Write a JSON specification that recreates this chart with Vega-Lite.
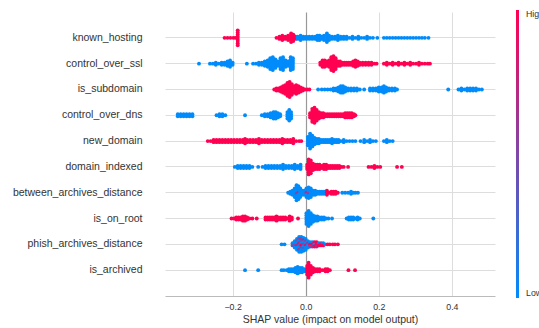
{
  "$schema": "https://vega.github.io/schema/vega-lite/v6.json",
  "width": 330,
  "height": 284,
  "autosize": {"type": "none"},
  "padding": {"left": 165, "top": 12, "right": 44, "bottom": 32},
  "background": "white",
  "config": {"view": {"stroke": null}, "font": "Liberation Sans"},
  "data": {"values": [
    {"f":0,"s":-0.222,"v":1},{"f":0,"s":-0.214,"v":1},{"f":0,"s":-0.206,"v":1},{"f":0,"s":-0.198,"v":1},{"f":0,"s":-0.192,"v":1},
    {"f":0,"s":-0.186,"v":1},{"f":0,"s":-0.186,"v":1},{"f":0,"s":-0.186,"v":1},{"f":0,"s":-0.186,"v":1},{"f":0,"s":-0.186,"v":1},{"f":0,"s":-0.186,"v":1},{"f":0,"s":-0.186,"v":1},{"f":0,"s":-0.186,"v":1},
    {"f":0,"s":-0.080,"v":1},{"f":0,"s":-0.072,"v":1},{"f":0,"s":-0.072,"v":1},{"f":0,"s":-0.064,"v":1},{"f":0,"s":-0.064,"v":1},{"f":0,"s":-0.064,"v":1},{"f":0,"s":-0.056,"v":1},{"f":0,"s":-0.056,"v":1},
    {"f":0,"s":-0.048,"v":1},{"f":0,"s":-0.048,"v":1},{"f":0,"s":-0.048,"v":1},{"f":0,"s":-0.040,"v":1},{"f":0,"s":-0.040,"v":1},{"f":0,"s":-0.040,"v":1},{"f":0,"s":-0.040,"v":1},{"f":0,"s":-0.040,"v":1},
    {"f":0,"s":-0.034,"v":1},{"f":0,"s":-0.034,"v":1},{"f":0,"s":-0.034,"v":1},{"f":0,"s":-0.034,"v":1},{"f":0,"s":-0.028,"v":1},{"f":0,"s":-0.028,"v":1},
    {"f":0,"s":-0.022,"v":0},{"f":0,"s":-0.022,"v":0},{"f":0,"s":-0.014,"v":0},{"f":0,"s":-0.014,"v":0},{"f":0,"s":-0.014,"v":0},{"f":0,"s":-0.006,"v":0},{"f":0,"s":-0.006,"v":0},
    {"f":0,"s":0.002,"v":0},{"f":0,"s":0.002,"v":0},{"f":0,"s":0.010,"v":0},{"f":0,"s":0.010,"v":0},{"f":0,"s":0.018,"v":0},{"f":0,"s":0.018,"v":0},{"f":0,"s":0.026,"v":0},{"f":0,"s":0.026,"v":0},
    {"f":0,"s":0.032,"v":0},{"f":0,"s":0.032,"v":0},{"f":0,"s":0.032,"v":0},{"f":0,"s":0.038,"v":0},{"f":0,"s":0.038,"v":0},{"f":0,"s":0.038,"v":0},{"f":0,"s":0.044,"v":0},{"f":0,"s":0.044,"v":0},
    {"f":0,"s":0.050,"v":0},{"f":0,"s":0.050,"v":0},{"f":0,"s":0.050,"v":0},{"f":0,"s":0.058,"v":0},{"f":0,"s":0.058,"v":0},{"f":0,"s":0.058,"v":0},{"f":0,"s":0.058,"v":0},{"f":0,"s":0.058,"v":0},
    {"f":0,"s":0.064,"v":0},{"f":0,"s":0.064,"v":0},{"f":0,"s":0.064,"v":0},{"f":0,"s":0.072,"v":0},{"f":0,"s":0.072,"v":0},{"f":0,"s":0.080,"v":0},{"f":0,"s":0.080,"v":0},
    {"f":0,"s":0.088,"v":0},{"f":0,"s":0.088,"v":0},{"f":0,"s":0.088,"v":0},{"f":0,"s":0.096,"v":0},{"f":0,"s":0.096,"v":0},{"f":0,"s":0.104,"v":0},{"f":0,"s":0.104,"v":0},{"f":0,"s":0.112,"v":0},{"f":0,"s":0.112,"v":0},
    {"f":0,"s":0.120,"v":0},{"f":0,"s":0.128,"v":0},{"f":0,"s":0.128,"v":0},{"f":0,"s":0.136,"v":0},{"f":0,"s":0.144,"v":0},{"f":0,"s":0.144,"v":0},{"f":0,"s":0.152,"v":0},{"f":0,"s":0.160,"v":0},
    {"f":0,"s":0.168,"v":0},{"f":0,"s":0.168,"v":0},{"f":0,"s":0.176,"v":0},{"f":0,"s":0.184,"v":0},{"f":0,"s":0.196,"v":0},
    {"f":0,"s":0.214,"v":0},{"f":0,"s":0.222,"v":0},{"f":0,"s":0.230,"v":0},{"f":0,"s":0.238,"v":0},{"f":0,"s":0.246,"v":0},{"f":0,"s":0.254,"v":0},{"f":0,"s":0.262,"v":0},{"f":0,"s":0.270,"v":0},
    {"f":0,"s":0.278,"v":0},{"f":0,"s":0.286,"v":0},{"f":0,"s":0.294,"v":0},{"f":0,"s":0.302,"v":0},{"f":0,"s":0.310,"v":0},{"f":0,"s":0.318,"v":0},{"f":0,"s":0.326,"v":0},{"f":0,"s":0.336,"v":0},

    {"f":1,"s":-0.292,"v":0},
    {"f":1,"s":-0.262,"v":0},{"f":1,"s":-0.254,"v":0},{"f":1,"s":-0.246,"v":0},{"f":1,"s":-0.246,"v":0},{"f":1,"s":-0.238,"v":0},{"f":1,"s":-0.230,"v":0},{"f":1,"s":-0.230,"v":0},
    {"f":1,"s":-0.222,"v":0},{"f":1,"s":-0.222,"v":0},{"f":1,"s":-0.214,"v":0},{"f":1,"s":-0.214,"v":0},{"f":1,"s":-0.214,"v":0},{"f":1,"s":-0.207,"v":0},{"f":1,"s":-0.207,"v":0},{"f":1,"s":-0.207,"v":0},{"f":1,"s":-0.207,"v":0},
    {"f":1,"s":-0.200,"v":0},{"f":1,"s":-0.200,"v":0},
    {"f":1,"s":-0.161,"v":0},
    {"f":1,"s":-0.144,"v":0},{"f":1,"s":-0.136,"v":0},{"f":1,"s":-0.128,"v":0},{"f":1,"s":-0.128,"v":0},{"f":1,"s":-0.120,"v":0},{"f":1,"s":-0.120,"v":0},
    {"f":1,"s":-0.112,"v":0},{"f":1,"s":-0.112,"v":0},{"f":1,"s":-0.112,"v":0},{"f":1,"s":-0.104,"v":0},{"f":1,"s":-0.104,"v":0},{"f":1,"s":-0.104,"v":0},{"f":1,"s":-0.104,"v":0},
    {"f":1,"s":-0.097,"v":0},{"f":1,"s":-0.097,"v":0},{"f":1,"s":-0.097,"v":0},{"f":1,"s":-0.097,"v":0},{"f":1,"s":-0.097,"v":0},{"f":1,"s":-0.097,"v":0},
    {"f":1,"s":-0.090,"v":0},{"f":1,"s":-0.090,"v":0},{"f":1,"s":-0.090,"v":0},{"f":1,"s":-0.090,"v":0},{"f":1,"s":-0.090,"v":0},{"f":1,"s":-0.090,"v":0},{"f":1,"s":-0.090,"v":0},
    {"f":1,"s":-0.083,"v":0},{"f":1,"s":-0.083,"v":0},{"f":1,"s":-0.083,"v":0},{"f":1,"s":-0.083,"v":0},{"f":1,"s":-0.083,"v":0},
    {"f":1,"s":-0.076,"v":0},{"f":1,"s":-0.076,"v":0},{"f":1,"s":-0.076,"v":0},
    {"f":1,"s":-0.069,"v":0},{"f":1,"s":-0.069,"v":0},{"f":1,"s":-0.069,"v":0},{"f":1,"s":-0.069,"v":0},{"f":1,"s":-0.069,"v":0},{"f":1,"s":-0.069,"v":0},
    {"f":1,"s":-0.062,"v":0},{"f":1,"s":-0.062,"v":0},{"f":1,"s":-0.062,"v":0},{"f":1,"s":-0.062,"v":0},{"f":1,"s":-0.062,"v":0},{"f":1,"s":-0.062,"v":0},{"f":1,"s":-0.062,"v":0},
    {"f":1,"s":-0.055,"v":0},{"f":1,"s":-0.055,"v":0},{"f":1,"s":-0.055,"v":0},{"f":1,"s":-0.055,"v":0},
    {"f":1,"s":-0.048,"v":0},{"f":1,"s":-0.048,"v":0},{"f":1,"s":-0.048,"v":0},
    {"f":1,"s":-0.041,"v":0},{"f":1,"s":-0.041,"v":0},{"f":1,"s":-0.041,"v":0},{"f":1,"s":-0.041,"v":0},{"f":1,"s":-0.041,"v":0},{"f":1,"s":-0.041,"v":0},{"f":1,"s":-0.041,"v":0},
    {"f":1,"s":-0.035,"v":0},{"f":1,"s":-0.035,"v":0},{"f":1,"s":-0.035,"v":0},{"f":1,"s":-0.035,"v":0},{"f":1,"s":-0.035,"v":0},{"f":1,"s":-0.035,"v":0},
    {"f":1,"s":0.040,"v":1},{"f":1,"s":0.040,"v":1},{"f":1,"s":0.046,"v":1},{"f":1,"s":0.046,"v":1},{"f":1,"s":0.046,"v":1},{"f":1,"s":0.046,"v":1},
    {"f":1,"s":0.052,"v":1},{"f":1,"s":0.052,"v":1},{"f":1,"s":0.052,"v":1},{"f":1,"s":0.052,"v":1},{"f":1,"s":0.058,"v":1},{"f":1,"s":0.058,"v":1},{"f":1,"s":0.058,"v":1},
    {"f":1,"s":0.064,"v":1},{"f":1,"s":0.064,"v":1},{"f":1,"s":0.064,"v":1},{"f":1,"s":0.064,"v":1},
    {"f":1,"s":0.070,"v":1},{"f":1,"s":0.070,"v":1},{"f":1,"s":0.070,"v":1},{"f":1,"s":0.070,"v":1},{"f":1,"s":0.070,"v":1},{"f":1,"s":0.070,"v":1},{"f":1,"s":0.070,"v":1},
    {"f":1,"s":0.076,"v":1},{"f":1,"s":0.076,"v":1},{"f":1,"s":0.076,"v":1},{"f":1,"s":0.076,"v":1},{"f":1,"s":0.076,"v":1},{"f":1,"s":0.076,"v":1},{"f":1,"s":0.076,"v":1},{"f":1,"s":0.076,"v":1},
    {"f":1,"s":0.082,"v":1},{"f":1,"s":0.082,"v":1},{"f":1,"s":0.082,"v":1},{"f":1,"s":0.082,"v":1},{"f":1,"s":0.082,"v":1},{"f":1,"s":0.082,"v":1},
    {"f":1,"s":0.088,"v":1},{"f":1,"s":0.088,"v":1},{"f":1,"s":0.088,"v":1},{"f":1,"s":0.094,"v":1},{"f":1,"s":0.094,"v":1},{"f":1,"s":0.094,"v":1},
    {"f":1,"s":0.100,"v":1},{"f":1,"s":0.100,"v":1},{"f":1,"s":0.106,"v":1},{"f":1,"s":0.106,"v":1},{"f":1,"s":0.112,"v":1},{"f":1,"s":0.112,"v":1},{"f":1,"s":0.118,"v":1},{"f":1,"s":0.118,"v":1},
    {"f":1,"s":0.124,"v":1},{"f":1,"s":0.124,"v":1},{"f":1,"s":0.130,"v":1},{"f":1,"s":0.130,"v":1},{"f":1,"s":0.130,"v":1},
    {"f":1,"s":0.136,"v":1},{"f":1,"s":0.136,"v":1},{"f":1,"s":0.136,"v":1},{"f":1,"s":0.136,"v":1},{"f":1,"s":0.142,"v":1},{"f":1,"s":0.142,"v":1},{"f":1,"s":0.142,"v":1},
    {"f":1,"s":0.148,"v":1},{"f":1,"s":0.148,"v":1},{"f":1,"s":0.156,"v":1},{"f":1,"s":0.156,"v":1},{"f":1,"s":0.164,"v":1},{"f":1,"s":0.164,"v":1},
    {"f":1,"s":0.172,"v":1},{"f":1,"s":0.172,"v":1},{"f":1,"s":0.180,"v":1},{"f":1,"s":0.180,"v":1},{"f":1,"s":0.188,"v":1},{"f":1,"s":0.194,"v":1},
    {"f":1,"s":0.214,"v":1},{"f":1,"s":0.222,"v":1},{"f":1,"s":0.222,"v":1},{"f":1,"s":0.230,"v":1},{"f":1,"s":0.238,"v":1},{"f":1,"s":0.238,"v":1},{"f":1,"s":0.246,"v":1},
    {"f":1,"s":0.254,"v":1},{"f":1,"s":0.254,"v":1},{"f":1,"s":0.262,"v":1},{"f":1,"s":0.270,"v":1},{"f":1,"s":0.270,"v":1},{"f":1,"s":0.278,"v":1},{"f":1,"s":0.286,"v":1},{"f":1,"s":0.286,"v":1},
    {"f":1,"s":0.294,"v":1},{"f":1,"s":0.302,"v":1},{"f":1,"s":0.310,"v":1},{"f":1,"s":0.310,"v":1},{"f":1,"s":0.318,"v":1},{"f":1,"s":0.326,"v":1},{"f":1,"s":0.334,"v":1},{"f":1,"s":0.340,"v":1},

    {"f":2,"s":-0.086,"v":1},{"f":2,"s":-0.080,"v":1},{"f":2,"s":-0.080,"v":1},{"f":2,"s":-0.074,"v":1},{"f":2,"s":-0.074,"v":1},
    {"f":2,"s":-0.068,"v":1},{"f":2,"s":-0.068,"v":1},{"f":2,"s":-0.068,"v":1},{"f":2,"s":-0.062,"v":1},{"f":2,"s":-0.062,"v":1},{"f":2,"s":-0.062,"v":1},{"f":2,"s":-0.062,"v":1},
    {"f":2,"s":-0.056,"v":1},{"f":2,"s":-0.056,"v":1},{"f":2,"s":-0.056,"v":1},{"f":2,"s":-0.056,"v":1},{"f":2,"s":-0.056,"v":1},
    {"f":2,"s":-0.050,"v":1},{"f":2,"s":-0.050,"v":1},{"f":2,"s":-0.050,"v":1},{"f":2,"s":-0.050,"v":1},{"f":2,"s":-0.050,"v":1},{"f":2,"s":-0.050,"v":1},{"f":2,"s":-0.050,"v":1},
    {"f":2,"s":-0.044,"v":1},{"f":2,"s":-0.044,"v":1},{"f":2,"s":-0.044,"v":1},{"f":2,"s":-0.044,"v":1},{"f":2,"s":-0.044,"v":1},{"f":2,"s":-0.044,"v":1},{"f":2,"s":-0.044,"v":1},{"f":2,"s":-0.044,"v":1},
    {"f":2,"s":-0.038,"v":1},{"f":2,"s":-0.038,"v":1},{"f":2,"s":-0.038,"v":1},{"f":2,"s":-0.038,"v":1},{"f":2,"s":-0.038,"v":1},{"f":2,"s":-0.038,"v":1},
    {"f":2,"s":-0.032,"v":1},{"f":2,"s":-0.032,"v":1},{"f":2,"s":-0.032,"v":1},{"f":2,"s":-0.032,"v":1},
    {"f":2,"s":-0.026,"v":1},{"f":2,"s":-0.026,"v":1},{"f":2,"s":-0.026,"v":1},{"f":2,"s":-0.026,"v":1},{"f":2,"s":-0.026,"v":1},
    {"f":2,"s":-0.020,"v":1},{"f":2,"s":-0.020,"v":1},{"f":2,"s":-0.020,"v":1},{"f":2,"s":-0.020,"v":1},{"f":2,"s":-0.014,"v":1},{"f":2,"s":-0.014,"v":1},{"f":2,"s":-0.014,"v":1},
    {"f":2,"s":-0.008,"v":1},{"f":2,"s":-0.008,"v":1},{"f":2,"s":-0.002,"v":1},{"f":2,"s":0.004,"v":1},{"f":2,"s":0.010,"v":1},
    {"f":2,"s":0.034,"v":0},{"f":2,"s":0.044,"v":0},{"f":2,"s":0.052,"v":0},{"f":2,"s":0.060,"v":0},{"f":2,"s":0.068,"v":0},{"f":2,"s":0.076,"v":0},{"f":2,"s":0.076,"v":0},
    {"f":2,"s":0.084,"v":0},{"f":2,"s":0.084,"v":0},{"f":2,"s":0.090,"v":0},{"f":2,"s":0.090,"v":0},{"f":2,"s":0.090,"v":0},
    {"f":2,"s":0.096,"v":0},{"f":2,"s":0.096,"v":0},{"f":2,"s":0.096,"v":0},{"f":2,"s":0.096,"v":0},{"f":2,"s":0.102,"v":0},{"f":2,"s":0.102,"v":0},{"f":2,"s":0.102,"v":0},{"f":2,"s":0.102,"v":0},
    {"f":2,"s":0.108,"v":0},{"f":2,"s":0.108,"v":0},{"f":2,"s":0.108,"v":0},{"f":2,"s":0.116,"v":0},{"f":2,"s":0.116,"v":0},{"f":2,"s":0.124,"v":0},{"f":2,"s":0.124,"v":0},
    {"f":2,"s":0.132,"v":0},{"f":2,"s":0.132,"v":0},{"f":2,"s":0.140,"v":0},{"f":2,"s":0.140,"v":0},{"f":2,"s":0.148,"v":0},{"f":2,"s":0.160,"v":0},
    {"f":2,"s":0.176,"v":0},{"f":2,"s":0.176,"v":0},{"f":2,"s":0.184,"v":0},{"f":2,"s":0.184,"v":0},{"f":2,"s":0.192,"v":0},{"f":2,"s":0.192,"v":0},
    {"f":2,"s":0.200,"v":0},{"f":2,"s":0.200,"v":0},{"f":2,"s":0.200,"v":0},{"f":2,"s":0.208,"v":0},{"f":2,"s":0.208,"v":0},{"f":2,"s":0.208,"v":0},
    {"f":2,"s":0.214,"v":0},{"f":2,"s":0.214,"v":0},{"f":2,"s":0.214,"v":0},{"f":2,"s":0.214,"v":0},{"f":2,"s":0.220,"v":0},{"f":2,"s":0.220,"v":0},{"f":2,"s":0.220,"v":0},
    {"f":2,"s":0.228,"v":0},{"f":2,"s":0.228,"v":0},{"f":2,"s":0.236,"v":0},{"f":2,"s":0.236,"v":0},{"f":2,"s":0.244,"v":0},{"f":2,"s":0.244,"v":0},{"f":2,"s":0.250,"v":0},
    {"f":2,"s":0.390,"v":0},
    {"f":2,"s":0.418,"v":0},{"f":2,"s":0.426,"v":0},{"f":2,"s":0.426,"v":0},{"f":2,"s":0.434,"v":0},{"f":2,"s":0.442,"v":0},{"f":2,"s":0.442,"v":0},
    {"f":2,"s":0.450,"v":0},{"f":2,"s":0.450,"v":0},{"f":2,"s":0.458,"v":0},{"f":2,"s":0.458,"v":0},{"f":2,"s":0.466,"v":0},{"f":2,"s":0.466,"v":0},{"f":2,"s":0.474,"v":0},{"f":2,"s":0.482,"v":0},

    {"f":3,"s":-0.350,"v":0},{"f":3,"s":-0.350,"v":0},{"f":3,"s":-0.342,"v":0},{"f":3,"s":-0.342,"v":0},{"f":3,"s":-0.334,"v":0},{"f":3,"s":-0.334,"v":0},
    {"f":3,"s":-0.326,"v":0},{"f":3,"s":-0.326,"v":0},{"f":3,"s":-0.318,"v":0},{"f":3,"s":-0.318,"v":0},{"f":3,"s":-0.310,"v":0},{"f":3,"s":-0.310,"v":0},
    {"f":3,"s":-0.244,"v":0},{"f":3,"s":-0.236,"v":0},{"f":3,"s":-0.236,"v":0},{"f":3,"s":-0.228,"v":0},{"f":3,"s":-0.228,"v":0},{"f":3,"s":-0.220,"v":0},
    {"f":3,"s":-0.166,"v":0},
    {"f":3,"s":-0.120,"v":0},{"f":3,"s":-0.112,"v":0},{"f":3,"s":-0.112,"v":0},{"f":3,"s":-0.104,"v":0},{"f":3,"s":-0.104,"v":0},{"f":3,"s":-0.096,"v":0},{"f":3,"s":-0.096,"v":0},{"f":3,"s":-0.096,"v":0},
    {"f":3,"s":-0.088,"v":0},{"f":3,"s":-0.088,"v":0},{"f":3,"s":-0.088,"v":0},{"f":3,"s":-0.088,"v":0},{"f":3,"s":-0.082,"v":0},{"f":3,"s":-0.082,"v":0},{"f":3,"s":-0.082,"v":0},{"f":3,"s":-0.082,"v":0},
    {"f":3,"s":-0.076,"v":0},{"f":3,"s":-0.076,"v":0},{"f":3,"s":-0.076,"v":0},{"f":3,"s":-0.070,"v":0},{"f":3,"s":-0.070,"v":0},
    {"f":3,"s":-0.050,"v":0},{"f":3,"s":-0.050,"v":0},{"f":3,"s":-0.050,"v":0},{"f":3,"s":-0.050,"v":0},
    {"f":3,"s":-0.045,"v":0},{"f":3,"s":-0.045,"v":0},{"f":3,"s":-0.045,"v":0},{"f":3,"s":-0.045,"v":0},{"f":3,"s":-0.045,"v":0},{"f":3,"s":-0.045,"v":0},
    {"f":3,"s":-0.040,"v":0},{"f":3,"s":-0.040,"v":0},{"f":3,"s":-0.040,"v":0},{"f":3,"s":-0.040,"v":0},
    {"f":3,"s":0.012,"v":1},{"f":3,"s":0.012,"v":1},{"f":3,"s":0.012,"v":1},
    {"f":3,"s":0.018,"v":1},{"f":3,"s":0.018,"v":1},{"f":3,"s":0.018,"v":1},{"f":3,"s":0.018,"v":1},{"f":3,"s":0.018,"v":1},{"f":3,"s":0.018,"v":1},{"f":3,"s":0.018,"v":1},
    {"f":3,"s":0.024,"v":1},{"f":3,"s":0.024,"v":1},{"f":3,"s":0.024,"v":1},{"f":3,"s":0.024,"v":1},{"f":3,"s":0.024,"v":1},{"f":3,"s":0.024,"v":1},{"f":3,"s":0.024,"v":1},{"f":3,"s":0.024,"v":1},
    {"f":3,"s":0.030,"v":1},{"f":3,"s":0.030,"v":1},{"f":3,"s":0.030,"v":1},{"f":3,"s":0.030,"v":1},{"f":3,"s":0.030,"v":1},{"f":3,"s":0.030,"v":1},
    {"f":3,"s":0.036,"v":1},{"f":3,"s":0.036,"v":1},{"f":3,"s":0.036,"v":1},{"f":3,"s":0.036,"v":1},{"f":3,"s":0.042,"v":1},{"f":3,"s":0.042,"v":1},{"f":3,"s":0.042,"v":1},
    {"f":3,"s":0.048,"v":1},{"f":3,"s":0.048,"v":1},{"f":3,"s":0.048,"v":1},{"f":3,"s":0.054,"v":1},{"f":3,"s":0.054,"v":1},{"f":3,"s":0.060,"v":1},{"f":3,"s":0.060,"v":1},
    {"f":3,"s":0.066,"v":1},{"f":3,"s":0.066,"v":1},{"f":3,"s":0.072,"v":1},{"f":3,"s":0.072,"v":1},{"f":3,"s":0.078,"v":1},{"f":3,"s":0.078,"v":1},{"f":3,"s":0.084,"v":1},{"f":3,"s":0.084,"v":1},
    {"f":3,"s":0.090,"v":1},{"f":3,"s":0.090,"v":1},{"f":3,"s":0.096,"v":1},{"f":3,"s":0.096,"v":1},{"f":3,"s":0.102,"v":1},{"f":3,"s":0.102,"v":1},
    {"f":3,"s":0.108,"v":1},{"f":3,"s":0.108,"v":1},{"f":3,"s":0.108,"v":1},{"f":3,"s":0.114,"v":1},{"f":3,"s":0.114,"v":1},{"f":3,"s":0.114,"v":1},
    {"f":3,"s":0.120,"v":1},{"f":3,"s":0.120,"v":1},{"f":3,"s":0.120,"v":1},{"f":3,"s":0.126,"v":1},{"f":3,"s":0.126,"v":1},{"f":3,"s":0.126,"v":1},
    {"f":3,"s":0.132,"v":1},{"f":3,"s":0.132,"v":1},{"f":3,"s":0.136,"v":1},

    {"f":4,"s":-0.268,"v":1},{"f":4,"s":-0.260,"v":1},{"f":4,"s":-0.252,"v":1},{"f":4,"s":-0.252,"v":1},{"f":4,"s":-0.244,"v":1},{"f":4,"s":-0.244,"v":1},
    {"f":4,"s":-0.236,"v":1},{"f":4,"s":-0.236,"v":1},{"f":4,"s":-0.228,"v":1},{"f":4,"s":-0.228,"v":1},{"f":4,"s":-0.220,"v":1},{"f":4,"s":-0.220,"v":1},
    {"f":4,"s":-0.212,"v":1},{"f":4,"s":-0.212,"v":1},{"f":4,"s":-0.204,"v":1},{"f":4,"s":-0.204,"v":1},{"f":4,"s":-0.196,"v":1},{"f":4,"s":-0.196,"v":1},
    {"f":4,"s":-0.188,"v":1},{"f":4,"s":-0.188,"v":1},{"f":4,"s":-0.180,"v":1},{"f":4,"s":-0.180,"v":1},{"f":4,"s":-0.172,"v":1},{"f":4,"s":-0.172,"v":1},
    {"f":4,"s":-0.166,"v":1},{"f":4,"s":-0.166,"v":1},{"f":4,"s":-0.166,"v":1},{"f":4,"s":-0.160,"v":1},{"f":4,"s":-0.160,"v":1},
    {"f":4,"s":-0.152,"v":1},{"f":4,"s":-0.152,"v":1},{"f":4,"s":-0.144,"v":1},{"f":4,"s":-0.144,"v":1},{"f":4,"s":-0.136,"v":1},{"f":4,"s":-0.136,"v":1},
    {"f":4,"s":-0.128,"v":1},{"f":4,"s":-0.128,"v":1},{"f":4,"s":-0.128,"v":1},{"f":4,"s":-0.120,"v":1},{"f":4,"s":-0.120,"v":1},
    {"f":4,"s":-0.112,"v":1},{"f":4,"s":-0.112,"v":1},{"f":4,"s":-0.104,"v":1},{"f":4,"s":-0.104,"v":1},{"f":4,"s":-0.096,"v":1},{"f":4,"s":-0.096,"v":1},
    {"f":4,"s":-0.088,"v":1},{"f":4,"s":-0.088,"v":1},{"f":4,"s":-0.080,"v":1},{"f":4,"s":-0.080,"v":1},{"f":4,"s":-0.072,"v":1},{"f":4,"s":-0.072,"v":1},
    {"f":4,"s":-0.064,"v":1},{"f":4,"s":-0.064,"v":1},{"f":4,"s":-0.064,"v":1},{"f":4,"s":-0.058,"v":1},{"f":4,"s":-0.058,"v":1},
    {"f":4,"s":-0.050,"v":1},{"f":4,"s":-0.050,"v":1},{"f":4,"s":-0.042,"v":1},{"f":4,"s":-0.042,"v":1},
    {"f":4,"s":-0.034,"v":1},{"f":4,"s":-0.034,"v":1},{"f":4,"s":-0.034,"v":1},{"f":4,"s":-0.026,"v":1},{"f":4,"s":-0.018,"v":1},{"f":4,"s":-0.012,"v":1},
    {"f":4,"s":0.006,"v":0},{"f":4,"s":0.006,"v":0},{"f":4,"s":0.006,"v":0},{"f":4,"s":0.006,"v":0},{"f":4,"s":0.006,"v":0},
    {"f":4,"s":0.012,"v":0},{"f":4,"s":0.012,"v":0},{"f":4,"s":0.012,"v":0},{"f":4,"s":0.012,"v":0},{"f":4,"s":0.012,"v":0},{"f":4,"s":0.012,"v":0},{"f":4,"s":0.012,"v":0},{"f":4,"s":0.012,"v":0},
    {"f":4,"s":0.018,"v":0},{"f":4,"s":0.018,"v":0},{"f":4,"s":0.018,"v":0},{"f":4,"s":0.018,"v":0},{"f":4,"s":0.018,"v":0},{"f":4,"s":0.018,"v":0},
    {"f":4,"s":0.024,"v":0},{"f":4,"s":0.024,"v":0},{"f":4,"s":0.024,"v":0},{"f":4,"s":0.024,"v":0},{"f":4,"s":0.030,"v":0},{"f":4,"s":0.030,"v":0},{"f":4,"s":0.030,"v":0},
    {"f":4,"s":0.036,"v":0},{"f":4,"s":0.036,"v":0},{"f":4,"s":0.036,"v":0},{"f":4,"s":0.042,"v":0},{"f":4,"s":0.042,"v":0},{"f":4,"s":0.048,"v":0},{"f":4,"s":0.048,"v":0},
    {"f":4,"s":0.054,"v":0},{"f":4,"s":0.054,"v":0},{"f":4,"s":0.060,"v":0},{"f":4,"s":0.060,"v":0},{"f":4,"s":0.066,"v":0},{"f":4,"s":0.066,"v":0},
    {"f":4,"s":0.072,"v":0},{"f":4,"s":0.072,"v":0},{"f":4,"s":0.072,"v":0},{"f":4,"s":0.078,"v":0},{"f":4,"s":0.078,"v":0},{"f":4,"s":0.084,"v":0},{"f":4,"s":0.084,"v":0},
    {"f":4,"s":0.090,"v":0},{"f":4,"s":0.090,"v":0},{"f":4,"s":0.096,"v":0},{"f":4,"s":0.104,"v":0},{"f":4,"s":0.104,"v":0},{"f":4,"s":0.112,"v":0},{"f":4,"s":0.120,"v":0},
    {"f":4,"s":0.128,"v":0},{"f":4,"s":0.136,"v":0},{"f":4,"s":0.150,"v":0},{"f":4,"s":0.160,"v":0},{"f":4,"s":0.160,"v":0},{"f":4,"s":0.168,"v":0},
    {"f":4,"s":0.176,"v":0},{"f":4,"s":0.176,"v":0},{"f":4,"s":0.184,"v":0},{"f":4,"s":0.192,"v":0},
    {"f":4,"s":0.214,"v":0},{"f":4,"s":0.222,"v":0},{"f":4,"s":0.222,"v":0},{"f":4,"s":0.230,"v":0},{"f":4,"s":0.238,"v":0},

    {"f":5,"s":-0.194,"v":0},{"f":5,"s":-0.186,"v":0},{"f":5,"s":-0.186,"v":0},{"f":5,"s":-0.178,"v":0},{"f":5,"s":-0.178,"v":0},
    {"f":5,"s":-0.170,"v":0},{"f":5,"s":-0.170,"v":0},{"f":5,"s":-0.162,"v":0},{"f":5,"s":-0.162,"v":0},{"f":5,"s":-0.154,"v":0},{"f":5,"s":-0.154,"v":0},{"f":5,"s":-0.146,"v":0},
    {"f":5,"s":-0.130,"v":0},{"f":5,"s":-0.118,"v":0},{"f":5,"s":-0.110,"v":0},{"f":5,"s":-0.110,"v":0},{"f":5,"s":-0.102,"v":0},{"f":5,"s":-0.102,"v":0},
    {"f":5,"s":-0.094,"v":0},{"f":5,"s":-0.094,"v":0},{"f":5,"s":-0.086,"v":0},{"f":5,"s":-0.086,"v":0},{"f":5,"s":-0.078,"v":0},{"f":5,"s":-0.078,"v":0},
    {"f":5,"s":-0.070,"v":0},{"f":5,"s":-0.070,"v":0},{"f":5,"s":-0.062,"v":0},{"f":5,"s":-0.062,"v":0},{"f":5,"s":-0.062,"v":0},{"f":5,"s":-0.054,"v":0},{"f":5,"s":-0.054,"v":0},
    {"f":5,"s":-0.046,"v":0},{"f":5,"s":-0.046,"v":0},{"f":5,"s":-0.038,"v":0},{"f":5,"s":-0.038,"v":0},{"f":5,"s":-0.030,"v":0},{"f":5,"s":-0.030,"v":0},{"f":5,"s":-0.030,"v":0},
    {"f":5,"s":-0.022,"v":0},{"f":5,"s":-0.022,"v":0},{"f":5,"s":-0.014,"v":0},{"f":5,"s":-0.014,"v":0},{"f":5,"s":-0.014,"v":0},
    {"f":5,"s":0.004,"v":1},{"f":5,"s":0.004,"v":1},{"f":5,"s":0.004,"v":1},
    {"f":5,"s":0.008,"v":1},{"f":5,"s":0.008,"v":1},{"f":5,"s":0.008,"v":1},{"f":5,"s":0.008,"v":1},{"f":5,"s":0.008,"v":1},{"f":5,"s":0.008,"v":1},{"f":5,"s":0.008,"v":1},{"f":5,"s":0.008,"v":1},
    {"f":5,"s":0.014,"v":1},{"f":5,"s":0.014,"v":1},{"f":5,"s":0.014,"v":1},{"f":5,"s":0.014,"v":1},{"f":5,"s":0.014,"v":1},{"f":5,"s":0.014,"v":1},{"f":5,"s":0.014,"v":1},
    {"f":5,"s":0.020,"v":1},{"f":5,"s":0.020,"v":1},{"f":5,"s":0.020,"v":1},{"f":5,"s":0.020,"v":1},{"f":5,"s":0.026,"v":1},{"f":5,"s":0.026,"v":1},{"f":5,"s":0.026,"v":1},
    {"f":5,"s":0.032,"v":1},{"f":5,"s":0.032,"v":1},{"f":5,"s":0.032,"v":1},{"f":5,"s":0.038,"v":1},{"f":5,"s":0.038,"v":1},{"f":5,"s":0.038,"v":1},{"f":5,"s":0.044,"v":1},{"f":5,"s":0.044,"v":1},
    {"f":5,"s":0.050,"v":1},{"f":5,"s":0.050,"v":1},{"f":5,"s":0.050,"v":1},{"f":5,"s":0.056,"v":1},{"f":5,"s":0.056,"v":1},{"f":5,"s":0.056,"v":1},
    {"f":5,"s":0.062,"v":1},{"f":5,"s":0.062,"v":1},{"f":5,"s":0.068,"v":1},{"f":5,"s":0.068,"v":1},{"f":5,"s":0.074,"v":1},{"f":5,"s":0.074,"v":1},
    {"f":5,"s":0.080,"v":1},{"f":5,"s":0.080,"v":1},{"f":5,"s":0.086,"v":1},{"f":5,"s":0.086,"v":1},{"f":5,"s":0.092,"v":1},{"f":5,"s":0.092,"v":1},
    {"f":5,"s":0.098,"v":1},{"f":5,"s":0.104,"v":1},{"f":5,"s":0.116,"v":1},
    {"f":5,"s":0.172,"v":1},{"f":5,"s":0.180,"v":1},{"f":5,"s":0.188,"v":1},{"f":5,"s":0.188,"v":1},{"f":5,"s":0.196,"v":1},{"f":5,"s":0.204,"v":1},
    {"f":5,"s":0.250,"v":1},{"f":5,"s":0.263,"v":1},

    {"f":6,"s":-0.048,"v":0},{"f":6,"s":-0.042,"v":0},{"f":6,"s":-0.042,"v":0},{"f":6,"s":-0.036,"v":0},{"f":6,"s":-0.036,"v":0},{"f":6,"s":-0.036,"v":0},
    {"f":6,"s":-0.030,"v":0},{"f":6,"s":-0.030,"v":0},{"f":6,"s":-0.030,"v":0},{"f":6,"s":-0.030,"v":0},{"f":6,"s":-0.030,"v":0},
    {"f":6,"s":-0.025,"v":0},{"f":6,"s":-0.025,"v":0},{"f":6,"s":-0.025,"v":0},{"f":6,"s":-0.025,"v":0},{"f":6,"s":-0.025,"v":0.5},{"f":6,"s":-0.025,"v":0},{"f":6,"s":-0.025,"v":0},{"f":6,"s":-0.025,"v":0},
    {"f":6,"s":-0.020,"v":0},{"f":6,"s":-0.020,"v":0},{"f":6,"s":-0.020,"v":0},{"f":6,"s":-0.020,"v":0.6},{"f":6,"s":-0.020,"v":0},{"f":6,"s":-0.020,"v":0},{"f":6,"s":-0.020,"v":0},
    {"f":6,"s":-0.015,"v":0},{"f":6,"s":-0.015,"v":0},{"f":6,"s":-0.015,"v":0},{"f":6,"s":-0.015,"v":0},{"f":6,"s":-0.015,"v":0},
    {"f":6,"s":-0.010,"v":0},{"f":6,"s":-0.010,"v":0},{"f":6,"s":-0.010,"v":0},{"f":6,"s":-0.004,"v":0},{"f":6,"s":-0.004,"v":0},{"f":6,"s":-0.004,"v":0},
    {"f":6,"s":0.002,"v":0},{"f":6,"s":0.002,"v":0},{"f":6,"s":0.002,"v":0.7},{"f":6,"s":0.002,"v":0},{"f":6,"s":0.002,"v":0},
    {"f":6,"s":0.008,"v":0},{"f":6,"s":0.008,"v":0},{"f":6,"s":0.008,"v":0},{"f":6,"s":0.008,"v":0.5},{"f":6,"s":0.008,"v":0},{"f":6,"s":0.008,"v":0},
    {"f":6,"s":0.014,"v":0},{"f":6,"s":0.014,"v":0},{"f":6,"s":0.014,"v":0},{"f":6,"s":0.014,"v":0},{"f":6,"s":0.014,"v":0},
    {"f":6,"s":0.020,"v":0},{"f":6,"s":0.020,"v":0},{"f":6,"s":0.020,"v":0},{"f":6,"s":0.026,"v":0},{"f":6,"s":0.026,"v":0},{"f":6,"s":0.026,"v":0},
    {"f":6,"s":0.032,"v":0},{"f":6,"s":0.032,"v":0},{"f":6,"s":0.038,"v":0},{"f":6,"s":0.038,"v":0},{"f":6,"s":0.044,"v":0},{"f":6,"s":0.044,"v":0},{"f":6,"s":0.050,"v":0},{"f":6,"s":0.050,"v":0},
    {"f":6,"s":0.058,"v":1},{"f":6,"s":0.058,"v":1},{"f":6,"s":0.058,"v":1},{"f":6,"s":0.064,"v":1},{"f":6,"s":0.070,"v":1},{"f":6,"s":0.070,"v":1},
    {"f":6,"s":0.076,"v":1},{"f":6,"s":0.076,"v":1},{"f":6,"s":0.082,"v":1},{"f":6,"s":0.082,"v":1},{"f":6,"s":0.088,"v":1},
    {"f":6,"s":0.100,"v":0},{"f":6,"s":0.108,"v":0},{"f":6,"s":0.116,"v":0},{"f":6,"s":0.124,"v":0},{"f":6,"s":0.124,"v":0},{"f":6,"s":0.130,"v":0},{"f":6,"s":0.136,"v":0},{"f":6,"s":0.143,"v":0},

    {"f":7,"s":-0.203,"v":1},{"f":7,"s":-0.196,"v":1},{"f":7,"s":-0.190,"v":1},{"f":7,"s":-0.190,"v":1},{"f":7,"s":-0.184,"v":1},{"f":7,"s":-0.184,"v":1},
    {"f":7,"s":-0.178,"v":1},{"f":7,"s":-0.178,"v":1},{"f":7,"s":-0.172,"v":1},{"f":7,"s":-0.172,"v":1},{"f":7,"s":-0.172,"v":1},
    {"f":7,"s":-0.166,"v":1},{"f":7,"s":-0.166,"v":1},{"f":7,"s":-0.166,"v":1},{"f":7,"s":-0.160,"v":1},{"f":7,"s":-0.160,"v":1},{"f":7,"s":-0.154,"v":1},{"f":7,"s":-0.146,"v":1},{"f":7,"s":-0.134,"v":1},
    {"f":7,"s":-0.110,"v":1},{"f":7,"s":-0.110,"v":1},{"f":7,"s":-0.104,"v":1},{"f":7,"s":-0.104,"v":1},{"f":7,"s":-0.098,"v":1},{"f":7,"s":-0.098,"v":1},
    {"f":7,"s":-0.092,"v":1},{"f":7,"s":-0.092,"v":1},{"f":7,"s":-0.086,"v":1},{"f":7,"s":-0.086,"v":1},{"f":7,"s":-0.080,"v":1},{"f":7,"s":-0.080,"v":1},{"f":7,"s":-0.080,"v":1},
    {"f":7,"s":-0.074,"v":1},{"f":7,"s":-0.074,"v":1},{"f":7,"s":-0.068,"v":1},{"f":7,"s":-0.068,"v":1},{"f":7,"s":-0.062,"v":1},{"f":7,"s":-0.062,"v":1},
    {"f":7,"s":-0.056,"v":1},{"f":7,"s":-0.056,"v":1},{"f":7,"s":-0.050,"v":1},{"f":7,"s":-0.044,"v":1},{"f":7,"s":-0.044,"v":1},{"f":7,"s":-0.044,"v":1},
    {"f":7,"s":-0.038,"v":1},{"f":7,"s":-0.038,"v":1},{"f":7,"s":-0.021,"v":1},
    {"f":7,"s":0.002,"v":0},{"f":7,"s":0.002,"v":0},{"f":7,"s":0.002,"v":0},{"f":7,"s":0.002,"v":0},{"f":7,"s":0.002,"v":0},{"f":7,"s":0.002,"v":0},
    {"f":7,"s":0.008,"v":0},{"f":7,"s":0.008,"v":0},{"f":7,"s":0.008,"v":0},{"f":7,"s":0.008,"v":0},{"f":7,"s":0.008,"v":0},{"f":7,"s":0.008,"v":0},{"f":7,"s":0.008,"v":0},{"f":7,"s":0.008,"v":0},
    {"f":7,"s":0.014,"v":0},{"f":7,"s":0.014,"v":0},{"f":7,"s":0.014,"v":0},{"f":7,"s":0.014,"v":0},{"f":7,"s":0.014,"v":0},{"f":7,"s":0.014,"v":0},
    {"f":7,"s":0.020,"v":0},{"f":7,"s":0.020,"v":0},{"f":7,"s":0.020,"v":0},{"f":7,"s":0.020,"v":0},{"f":7,"s":0.026,"v":0},{"f":7,"s":0.026,"v":0},{"f":7,"s":0.026,"v":0},
    {"f":7,"s":0.032,"v":0},{"f":7,"s":0.032,"v":0},{"f":7,"s":0.032,"v":0},{"f":7,"s":0.038,"v":0},{"f":7,"s":0.038,"v":0},{"f":7,"s":0.044,"v":0},{"f":7,"s":0.044,"v":0},
    {"f":7,"s":0.050,"v":0},{"f":7,"s":0.050,"v":0},{"f":7,"s":0.056,"v":0},{"f":7,"s":0.062,"v":0},{"f":7,"s":0.072,"v":0},
    {"f":7,"s":0.112,"v":0},{"f":7,"s":0.118,"v":0},{"f":7,"s":0.118,"v":0},{"f":7,"s":0.124,"v":0},{"f":7,"s":0.124,"v":0},{"f":7,"s":0.130,"v":0},{"f":7,"s":0.130,"v":0},
    {"f":7,"s":0.136,"v":0},{"f":7,"s":0.142,"v":0},{"f":7,"s":0.142,"v":0},{"f":7,"s":0.148,"v":0},{"f":7,"s":0.185,"v":0},

    {"f":8,"s":-0.066,"v":0},{"f":8,"s":-0.058,"v":0},
    {"f":8,"s":-0.036,"v":0},{"f":8,"s":-0.036,"v":0.3},
    {"f":8,"s":-0.030,"v":0},{"f":8,"s":-0.030,"v":0},{"f":8,"s":-0.030,"v":0.5},{"f":8,"s":-0.030,"v":0},
    {"f":8,"s":-0.024,"v":0},{"f":8,"s":-0.024,"v":0.4},{"f":8,"s":-0.024,"v":0},{"f":8,"s":-0.024,"v":0.7},{"f":8,"s":-0.024,"v":0},{"f":8,"s":-0.024,"v":0},
    {"f":8,"s":-0.018,"v":0},{"f":8,"s":-0.018,"v":0.5},{"f":8,"s":-0.018,"v":0},{"f":8,"s":-0.018,"v":0.8},{"f":8,"s":-0.018,"v":0.3},{"f":8,"s":-0.018,"v":0},{"f":8,"s":-0.018,"v":0.6},{"f":8,"s":-0.018,"v":0},
    {"f":8,"s":-0.012,"v":0},{"f":8,"s":-0.012,"v":0.6},{"f":8,"s":-0.012,"v":0.4},{"f":8,"s":-0.012,"v":0},{"f":8,"s":-0.012,"v":1},{"f":8,"s":-0.012,"v":0.5},{"f":8,"s":-0.012,"v":0},{"f":8,"s":-0.012,"v":0},
    {"f":8,"s":-0.006,"v":0},{"f":8,"s":-0.006,"v":0.7},{"f":8,"s":-0.006,"v":0},{"f":8,"s":-0.006,"v":0.5},{"f":8,"s":-0.006,"v":0},{"f":8,"s":-0.006,"v":0.3},{"f":8,"s":-0.006,"v":0},
    {"f":8,"s":0.000,"v":0},{"f":8,"s":0.000,"v":0.5},{"f":8,"s":0.000,"v":0},{"f":8,"s":0.000,"v":0.8},{"f":8,"s":0.000,"v":0},{"f":8,"s":0.000,"v":0},
    {"f":8,"s":0.006,"v":0},{"f":8,"s":0.006,"v":0.6},{"f":8,"s":0.006,"v":0},{"f":8,"s":0.006,"v":0},
    {"f":8,"s":0.012,"v":0},{"f":8,"s":0.012,"v":1},{"f":8,"s":0.012,"v":0.4},{"f":8,"s":0.018,"v":0},{"f":8,"s":0.018,"v":1},{"f":8,"s":0.018,"v":0.6},
    {"f":8,"s":0.024,"v":1},{"f":8,"s":0.024,"v":0},{"f":8,"s":0.024,"v":1},{"f":8,"s":0.030,"v":1},{"f":8,"s":0.030,"v":1},{"f":8,"s":0.030,"v":0.7},
    {"f":8,"s":0.036,"v":0},{"f":8,"s":0.036,"v":1},{"f":8,"s":0.042,"v":0.5},{"f":8,"s":0.042,"v":1},{"f":8,"s":0.048,"v":0},{"f":8,"s":0.048,"v":1},
    {"f":8,"s":0.054,"v":0},{"f":8,"s":0.060,"v":1},{"f":8,"s":0.066,"v":1},{"f":8,"s":0.074,"v":1},{"f":8,"s":0.080,"v":1},{"f":8,"s":0.088,"v":1},

    {"f":9,"s":-0.166,"v":0},{"f":9,"s":-0.130,"v":0},
    {"f":9,"s":-0.066,"v":0},{"f":9,"s":-0.060,"v":0},{"f":9,"s":-0.052,"v":0},{"f":9,"s":-0.046,"v":0},{"f":9,"s":-0.046,"v":0},{"f":9,"s":-0.040,"v":0},{"f":9,"s":-0.040,"v":0},
    {"f":9,"s":-0.034,"v":0},{"f":9,"s":-0.034,"v":0},{"f":9,"s":-0.028,"v":0},{"f":9,"s":-0.028,"v":0},{"f":9,"s":-0.028,"v":0},
    {"f":9,"s":-0.022,"v":0},{"f":9,"s":-0.022,"v":0},{"f":9,"s":-0.022,"v":0},{"f":9,"s":-0.022,"v":0},
    {"f":9,"s":-0.016,"v":0},{"f":9,"s":-0.016,"v":0},{"f":9,"s":-0.016,"v":0},{"f":9,"s":-0.010,"v":0},{"f":9,"s":-0.010,"v":0},{"f":9,"s":-0.010,"v":0},{"f":9,"s":-0.004,"v":0},{"f":9,"s":-0.004,"v":0},
    {"f":9,"s":0.004,"v":1},{"f":9,"s":0.004,"v":1},{"f":9,"s":0.004,"v":1},{"f":9,"s":0.004,"v":1},{"f":9,"s":0.004,"v":1},
    {"f":9,"s":0.008,"v":1},{"f":9,"s":0.008,"v":1},{"f":9,"s":0.008,"v":1},{"f":9,"s":0.008,"v":1},{"f":9,"s":0.008,"v":1},{"f":9,"s":0.008,"v":1},{"f":9,"s":0.008,"v":1},{"f":9,"s":0.008,"v":1},
    {"f":9,"s":0.014,"v":1},{"f":9,"s":0.014,"v":1},{"f":9,"s":0.014,"v":1},{"f":9,"s":0.014,"v":1},{"f":9,"s":0.014,"v":1},
    {"f":9,"s":0.020,"v":1},{"f":9,"s":0.020,"v":1},{"f":9,"s":0.020,"v":1},{"f":9,"s":0.026,"v":1},{"f":9,"s":0.026,"v":1},{"f":9,"s":0.032,"v":1},{"f":9,"s":0.032,"v":1},
    {"f":9,"s":0.038,"v":1},{"f":9,"s":0.038,"v":1},{"f":9,"s":0.046,"v":1},{"f":9,"s":0.054,"v":1},{"f":9,"s":0.054,"v":1},{"f":9,"s":0.060,"v":1},{"f":9,"s":0.060,"v":1},{"f":9,"s":0.066,"v":1},
    {"f":9,"s":0.117,"v":1},{"f":9,"s":0.135,"v":1}
  ]},
  "transform": [
    {"window": [{"op": "count", "as": "one"}], "frame": [0, 0]},
    {"stack": "one", "groupby": ["f", "s"], "offset": "center", "as": ["o0", "o1"]}
  ],
  "mark": {"type": "circle", "size": 15, "opacity": 1},
  "encoding": {
    "x": {
      "field": "s",
      "type": "quantitative",
      "scale": {"domain": [-0.385, 0.518], "nice": false, "zero": false},
      "axis": {
        "values": [-0.2, 0, 0.2, 0.4],
        "format": ".1f",
        "title": "SHAP value (impact on model output)",
        "grid": true,
        "gridColor": {"condition": {"test": "datum.value === 0", "value": "#999999"}, "value": "#dddddd"},
        "gridWidth": {"condition": {"test": "datum.value === 0", "value": 1.2}, "value": 1},
        "ticks": false,
        "domainColor": "#bbbbbb",
        "labelFontSize": 8.8,
        "labelColor": "#333333",
        "labelPadding": 6,
        "titleFontSize": 10.5,
        "titleFontWeight": "normal",
        "titleColor": "#333333",
        "titlePadding": 4
      }
    },
    "y": {
      "field": "f",
      "type": "nominal",
      "scale": {"paddingInner": 0.42, "paddingOuter": 0.71},
      "axis": {
        "title": null,
        "domain": false,
        "ticks": false,
        "grid": true,
        "bandPosition": 0.5,
        "gridColor": "#dddddd",
        "labelPadding": 23,
        "labelFontSize": 10.5,
        "labelColor": "#333333",
        "labelExpr": "['known_hosting','control_over_ssl','is_subdomain','control_over_dns','new_domain','domain_indexed','between_archives_distance','is_on_root','phish_archives_distance','is_archived'][datum.value]"
      }
    },
    "yOffset": {"field": "o0", "type": "quantitative"},
    "color": {
      "field": "v",
      "type": "quantitative",
      "scale": {"domain": [0, 1], "range": ["#008bfb", "#ff0052"], "interpolate": "rgb"},
      "legend": {
        "orient": "none",
        "legendX": 351,
        "legendY": -2,
        "direction": "vertical",
        "title": null,
        "padding": 0,
        "gradientLength": 288,
        "gradientThickness": 3,
        "gradientStrokeWidth": 0,
        "values": [0, 1],
        "labelExpr": "datum.value >= 1 ? 'High' : 'Low'",
        "labelFontSize": 8.8,
        "labelColor": "#333333",
        "labelOffset": 7,
        "labelOverlap": false
      }
    }
  }
}
